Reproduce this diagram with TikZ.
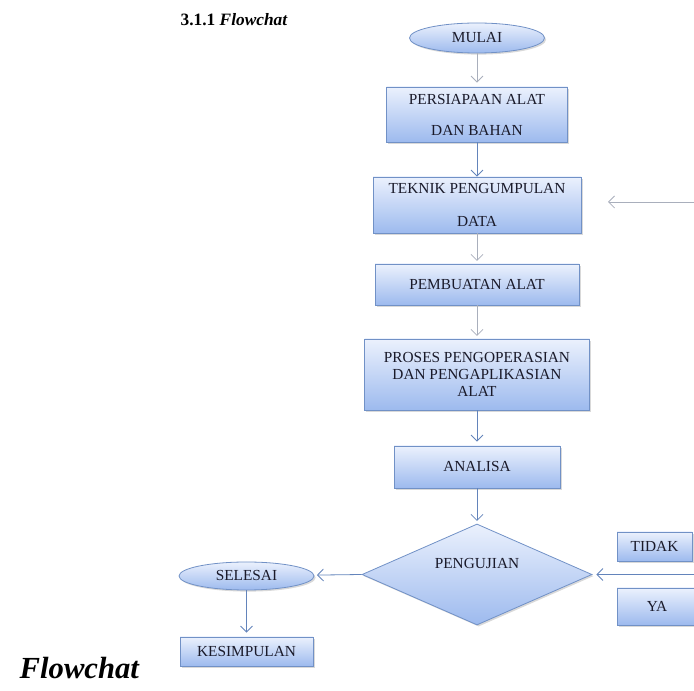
\documentclass[tikz,border=0pt]{standalone}
\usepackage{fontspec}
\setmainfont{Liberation Serif}
\usetikzlibrary{shapes.geometric,arrows.meta,shadows}

\definecolor{boxline}{HTML}{7191C6}
\definecolor{boxtop}{HTML}{EBF1FD}
\definecolor{boxbot}{HTML}{9DBAEE}
\definecolor{arrblue}{HTML}{6384BB}
\definecolor{arrgrey}{HTML}{A9AFBC}
\definecolor{ink}{HTML}{1A1A2A}

\tikzset{
  flowbox/.style={draw=boxline, line width=0.6pt, top color=boxtop, bottom color=boxbot,
    drop shadow={shadow xshift=1.2pt, shadow yshift=-1.2pt, opacity=0.3},
    align=center, inner sep=0pt, text=ink, font=\fontsize{11.5}{12.75}\selectfont},
  oval/.style={flowbox, ellipse},
  decide/.style={flowbox, diamond, aspect=2.3},
  arr/.style={draw=arrblue, line width=0.6pt, -{Straight Barb[length=4.5pt,width=9pt]}},
  arrlight/.style={arr, draw=arrgrey},
}

\begin{document}
\begin{tikzpicture}[x=0.75pt,y=0.75pt,yscale=-1,xscale=1]
\useasboundingbox (0,0) rectangle (694,691);

% Text Node
\draw (176,26) node [anchor=base west, font=\fontsize{13}{15}\selectfont\bfseries] (title) {3.1.1 \textit{Flowchat}};
% Text Node
\draw (15,679) node [anchor=base west, font=\fontsize{23}{27}\selectfont\bfseries\itshape] (caption) {Flowchat};

%Shape: Ellipse
\draw (477,38) node [oval, minimum width=101.25pt, minimum height=22.5pt] (mulai) {MULAI};
%Shape: Rectangle
\draw (477,114.5) node [flowbox, minimum width=135.75pt, minimum height=41.25pt] (persiapan) {PERSIAPAAN ALAT\\[10.5pt]DAN BAHAN};
%Shape: Rectangle
\draw (477,205) node [flowbox, minimum width=156pt, minimum height=42pt] (teknik) {TEKNIK PENGUMPULAN\\[12pt]DATA};
%Shape: Rectangle
\draw (477,284.5) node [flowbox, minimum width=153pt, minimum height=30.75pt] (pembuatan) {PEMBUATAN ALAT};
%Shape: Rectangle
\draw (477,374.5) node [flowbox, minimum width=168.75pt, minimum height=53.25pt] (proses) {PROSES PENGOPERASIAN\\DAN PENGAPLIKASIAN\\ALAT};
%Shape: Rectangle
\draw (477,467) node [flowbox, minimum width=124.5pt, minimum height=31.5pt] (analisa) {ANALISA};
%Shape: Diamond
\draw (477,574.5) node [decide, minimum width=172.5pt, minimum height=75.75pt] (pengujian) {PENGUJIAN\\[4pt]};
%Shape: Ellipse
\draw (246.5,576) node [oval, minimum width=101.25pt, minimum height=21pt] (selesai) {SELESAI};
%Shape: Rectangle
\draw (246.5,651.5) node [flowbox, minimum width=99.75pt, minimum height=21.75pt] (kesimpulan) {KESIMPULAN};
%Shape: Rectangle
\draw (654.5,546.5) node [flowbox, minimum width=56.25pt, minimum height=21.75pt] (tidak) {TIDAK};
%Shape: Rectangle
\draw (657,606.5) node [flowbox, minimum width=60pt, minimum height=27.75pt] (ya) {YA};

%Free ends at the right edge
\coordinate (backtop) at (694,202);
\coordinate (backlow) at (694,574.5);

%Straight Lines
\draw [arrlight, shorten >=3pt] (mulai) -- (persiapan);
\draw [arr] (persiapan) -- (teknik);
\draw [arrlight, shorten >=2pt] (teknik) -- (pembuatan);
\draw [arrlight, shorten >=2pt] (pembuatan) -- (proses);
\draw [arr, shorten >=3pt] (proses) -- (analisa);
\draw [arr, shorten >=2pt] (analisa) -- (pengujian);
\draw [arrlight] (backtop) -- ++(-86,0);
\draw [arr, shorten >=3pt] (backlow) -- (pengujian.east);
\draw [arr, shorten >=2pt] (pengujian.west) -- (selesai);
\draw [arr, shorten >=3pt] (selesai) -- (kesimpulan);

\end{tikzpicture}
\end{document}
